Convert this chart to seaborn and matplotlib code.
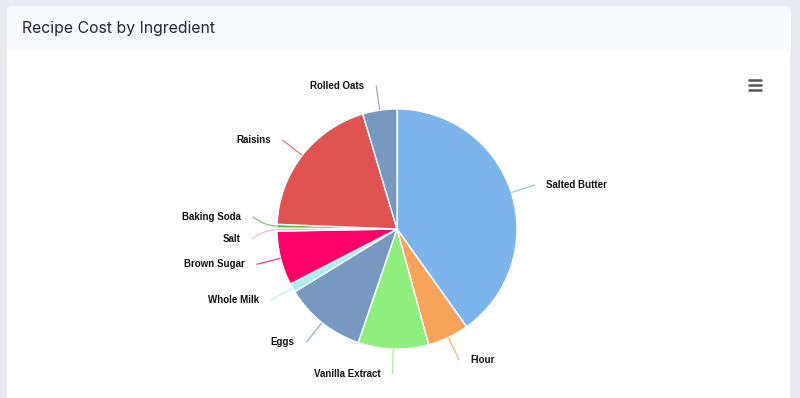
import numpy as np
import matplotlib
matplotlib.use("Agg")
import matplotlib.pyplot as plt
import seaborn as sns
from matplotlib.patches import FancyBboxPatch, Rectangle
from matplotlib.path import Path
from matplotlib.patches import PathPatch

# ---------------------------------------------------------------------------
# Data
# ---------------------------------------------------------------------------
ingredients = ['Salted Butter', 'Flour', 'Vanilla Extract', 'Eggs', 'Whole Milk',
               'Brown Sugar', 'Salt', 'Baking Soda', 'Raisins', 'Rolled Oats']
costs = [4.02, 0.56, 0.95, 1.10, 0.12, 0.73, 0.04, 0.05, 1.98, 0.46]
slice_colors = ['#7cb5ec', '#f7a35c', '#90ee7e', '#7798BF', '#aaeeee',
                '#ff0066', '#eeaaee', '#55BF3B', '#DF5353', '#7798BF']
title = 'Recipe Cost by Ingredient'

W, H = 800, 398
sns.set_theme(style='white')
palette = sns.color_palette(slice_colors)

fig = plt.figure(figsize=(W / 100, H / 100), dpi=100)
fig.patch.set_facecolor('#e8ecf2')
ax = fig.add_axes([0, 0, 1, 1])
ax.set_xlim(0, W)
ax.set_ylim(0, H)
ax.axis('off')

# card + header band (pixel coords, y measured from the top)
def py(y):
    return H - y

ax.add_patch(FancyBboxPatch((6, -20), 785, py(6) + 20 - 6,
                            boxstyle='round,pad=0,rounding_size=6',
                            fc='white', ec='#dfe4ec', lw=0.8, zorder=0))
ax.add_patch(Rectangle((6.5, py(50)), 784, 44 - 6, fc='#f7f9fc', ec='none', zorder=1))
ax.add_patch(FancyBboxPatch((6.5, py(50) + 20), 784, 44 - 20,
                            boxstyle='round,pad=0,rounding_size=6',
                            fc='#f7f9fc', ec='none', zorder=1))
ax.text(22, py(28), title, fontsize=11.4, family='Inter', color='#1f2937',
        ha='left', va='center', zorder=3)

# hamburger menu
for yy in (80, 85, 90):
    ax.plot([749, 761], [py(yy), py(yy)], color='#555555', lw=1.8,
            solid_capstyle='round', zorder=3)

# ---------------------------------------------------------------------------
# Pie
# ---------------------------------------------------------------------------
cx, cy, r = 397, py(229), 120
wedges, _ = ax.pie(costs, colors=palette, startangle=90, counterclock=False,
                   center=(cx, cy), radius=r, frame=True,
                   wedgeprops=dict(edgecolor='white', linewidth=1.0))
ax.set_xlim(0, W)
ax.set_ylim(0, H)
ax.axis('off')
for w in wedges:
    w.set_zorder(2)

# label placement (Highcharts-like: on a circle r+dist, declumped per side)
dist = 25
labels = []
for name, w, col in zip(ingredients, wedges, palette):
    phi = np.deg2rad((w.theta1 + w.theta2) / 2)
    lx = cx + (r + dist) * np.cos(phi)
    ly = cy + (r + dist) * np.sin(phi)
    labels.append(dict(name=name, phi=phi, x=lx, y=ly, col=col,
                       side='L' if np.cos(phi) < 0 else 'R'))

gap = 22
for side in ('L', 'R'):
    grp = sorted([l for l in labels if l['side'] == side], key=lambda d: d['y'])
    for _ in range(100):
        for a, b in zip(grp[:-1], grp[1:]):
            over = gap - (b['y'] - a['y'])
            if over > 0:
                a['y'] -= over / 2
                b['y'] += over / 2
    for l in grp:
        dy = l['y'] - cy
        dx = np.sqrt(max((r + dist) ** 2 - dy ** 2, 0))
        l['x'] = cx - dx if side == 'L' else cx + dx

for l in labels:
    ex = cx + r * np.cos(l['phi'])
    ey = cy + r * np.sin(l['phi'])
    qx = cx + (r + 12) * np.cos(l['phi'])
    qy = cy + (r + 12) * np.sin(l['phi'])
    path = Path([(ex, ey), (qx, qy), (l['x'], l['y'])],
                [Path.MOVETO, Path.CURVE3, Path.CURVE3])
    ax.add_patch(PathPatch(path, fc='none', ec=l['col'], lw=0.9, alpha=0.8,
                           zorder=2))
    off = -12 if l['side'] == 'L' else 11
    ax.text(l['x'] + off, l['y'], l['name'], fontsize=7.0, fontweight='bold',
            family='Liberation Sans', color='#111111',
            ha='right' if l['side'] == 'L' else 'left', va='center', zorder=3)

fig.savefig('out.png', dpi=100, facecolor=fig.get_facecolor())
